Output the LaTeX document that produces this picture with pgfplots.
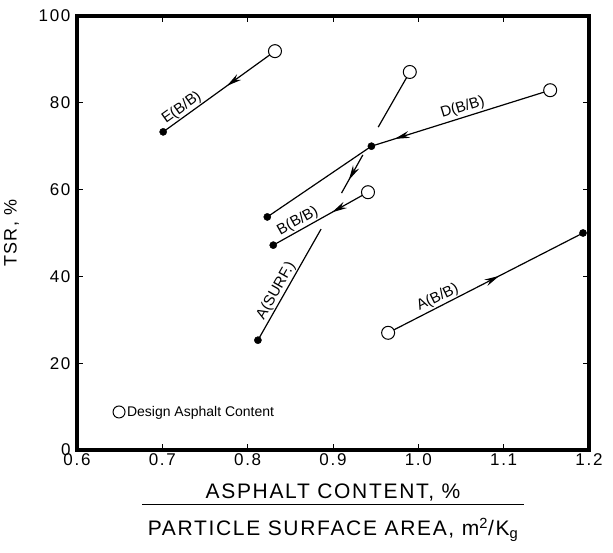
\documentclass[border=0pt]{standalone}
\usepackage{pgfplots}
\pgfplotsset{compat=1.18}
\usepackage{fontspec}
\setmainfont{Liberation Sans}
\newfontfamily\lsfont[LetterSpace=8]{Liberation Sans}
\newfontfamily\tkfont[LetterSpace=10]{Liberation Sans}
\usetikzlibrary{arrows.meta,decorations.markings}
\tikzset{arr/.style={postaction={decorate},decoration={markings,mark=at position #1 with {\arrow{Stealth[length=15pt,width=7pt]}}}}}
\tikzset{lbl/.style={font=\fontsize{15}{17}\selectfont, inner sep=1.5pt, anchor=south}}
\begin{document}
\begin{tikzpicture}
\path[use as bounding box] (-77pt,-103pt) rectangle (536pt,450pt);
\begin{axis}[
  at={(0pt,0pt)}, anchor=south west,
  scale only axis, width=512pt, height=434pt,
  xmin=0.6, xmax=1.2, ymin=0, ymax=100,
  xtick={0.6,0.7,0.8,0.9,1.0,1.1,1.2},
  xticklabels={0.6,0.7,0.8,0.9,1.0,1.1,1.2},
  ytick={0,20,40,60,80,100},
  yticklabels={0,20,40,60,80,100},
  tick align=inside, major tick length=6pt,
  axis line style={line width=2.8pt},
  every tick/.style={black, line width=1pt},
  tick label style={font=\tkfont\fontsize{17}{19}\selectfont},
  yticklabel style={xshift=-3pt},
  /pgf/number format/assume math mode=true,
  ylabel={TSR, \%},
  ylabel style={font=\lsfont\fontsize{18}{20}\selectfont, yshift=13pt},
  xlabel={\vbox{\hbox to 382pt{\hfil ASPHALT CONTENT, \%\hfil}\kern3pt\hrule height 1.2pt\kern13pt\hbox to 382pt{\hfil PARTICLE SURFACE AREA, m\textsuperscript{2}/K\textsubscript{g}\hfil}}},
  xlabel style={font=\lsfont\fontsize{21}{24}\selectfont, yshift=-11pt},
  clip=false,
  legend style={draw=none, fill=none, at={(0.07,0.0876)}, anchor=west, font=\fontsize{14}{16}\selectfont, inner sep=0pt},
  legend cell align=left,
  legend image code/.code={\draw[#1] plot coordinates {(0.1cm,0cm)};},
  after end axis/.code={\draw[line width=3.4pt, line join=miter] (rel axis cs:0,0) rectangle (rel axis cs:1,1);},
]
\addlegendimage{only marks, mark=o, mark size=6pt, line width=1pt}
\addlegendentry{Design Asphalt Content}
% E(B/B)
\addplot[black, line width=1.2pt, arr=0.43] coordinates {(0.832,91.9) (0.701,73.3)};
% D(B/B)
\addplot[black, line width=1.2pt, arr=0.87] coordinates {(1.1545,82.9) (0.945,70.0)};
\addplot[black, line width=1.2pt] coordinates {(0.945,70.0) (0.823,53.7)};
% B(B/B)
\addplot[black, line width=1.2pt, arr=0.38] coordinates {(0.941,59.4) (0.830,47.2)};
% A(SURF.)
\addplot[black, line width=1.2pt] coordinates {(0.990,87.1) (0.953,74.4)};
\addplot[black, line width=1.2pt, arr=0.66] coordinates {(0.935,68.0) (0.910,59.2)};
\addplot[black, line width=1.2pt] coordinates {(0.886,50.9) (0.812,25.3)};
% A(B/B)
\addplot[black, line width=1.2pt, arr=0.57] coordinates {(0.9646,27.0) (1.193,50.0)};
% open circles: design asphalt content
\addplot[only marks, mark=*, mark size=6.5pt, mark options={fill=white, draw=black, line width=1pt}] coordinates {(0.832,91.9) (1.1545,82.9) (0.990,87.1) (0.941,59.4) (0.9646,27.0)};
% filled points
\addplot[only marks, mark=*, mark size=3.6pt, black] coordinates {(0.701,73.3) (0.945,70.0) (0.823,53.7) (0.830,47.2) (0.812,25.3) (1.193,50.0)};
% series labels
\node[lbl, rotate=35.5] at (axis cs:0.7287,77.2) {E(B/B)};
\node[lbl, rotate=17.1] at (axis cs:1.0549,77.0) {D(B/B)};
\node[lbl, rotate=29.2] at (axis cs:0.8638,51.0) {B(B/B)};
\node[lbl, rotate=60.4] at (axis cs:0.8423,35.7) {A(SURF.)};
\node[lbl, rotate=26.4] at (axis cs:1.0273,33.3) {A(B/B)};
\end{axis}
\end{tikzpicture}
\end{document}
